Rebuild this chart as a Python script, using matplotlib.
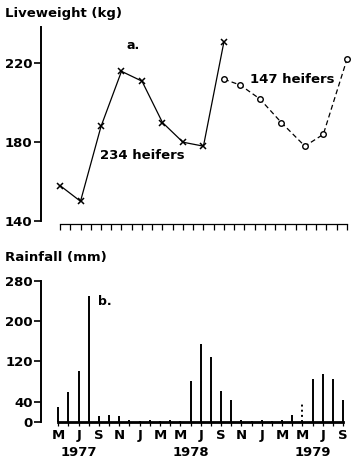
import matplotlib.pyplot as plt
import matplotlib.transforms as mtransforms
import numpy as np

# month index 0 = May 1977 ... 28 = Sep 1979
months = np.arange(29)
month_labels = ["M", "J", "S", "N", "J", "M", "M", "J", "S", "N", "J", "M", "M", "J", "S"]
years = ["1977", "1978", "1979"]
year_pos = [2, 13, 25]

# liveweight (kg)
wt_a_month = [0, 2, 4, 6, 8, 10, 12, 14, 16]
wt_a = [158, 150, 188, 216, 211, 190, 180, 178, 231]
wt_b_month = [16, 17.6, 19.5, 21.6, 23.9, 25.7, 28]
wt_b = [212, 209, 202, 190, 178, 184, 222]

# monthly rainfall (mm)
rain = [30, 59, 101, 250, 12, 13, 11, 3, 2, 3, 2, 3, 2, 80, 154, 129, 61, 43,
        3, 2, 3, 2, 3, 13, 35, 84, 95, 84, 43]

plt.rcParams.update({
    "font.family": "DejaVu Sans",
    "font.weight": "bold",
    "font.size": 9,
})

fig = plt.figure(figsize=(3.61, 4.68), dpi=100)

# --- a. liveweight
ax1 = fig.add_axes([0.1136, 0.5278, 0.8615, 0.4145])
ax1.plot(wt_a_month, wt_a, color="black", lw=0.9, marker="x", ms=4.5, mew=1.1)
ax1.plot(wt_b_month, wt_b, color="black", lw=0.9, ls=(0, (4, 2.5)), marker="o",
         ms=4, mfc="white", mew=1.0)
ax1.set_xlim(-1.855, 28.5)
ax1.set_ylim(140, 238.5)
ax1.set_yticks([140, 180, 220])
ax1.set_xticks(months)
ax1.set_xticklabels([])
for s in ["top", "right"]:
    ax1.spines[s].set_visible(False)
ax1.spines["left"].set_linewidth(1.4)
ax1.spines["bottom"].set_linewidth(0.9)
ax1.spines["bottom"].set_bounds(0, 28)
ax1.spines["bottom"].set_position(("outward", 2))
ax1.tick_params(axis="y", length=5, width=1.2, pad=1, labelsize=9.5)
ax1.tick_params(axis="x", length=4, width=0.9)
ax1.text(7.1, 229, "a.", ha="center", va="center", fontsize=9)
ax1.text(3.9, 173.5, "234 heifers", ha="left", va="center", fontsize=9.5)
ax1.text(18.5, 212, "147 heifers", ha="left", va="center", fontsize=9.5)
fig.text(0.014, 0.972, "Liveweight (kg)", ha="left", va="center", fontsize=9.5)

# --- b. rainfall
ax2 = fig.add_axes([0.1136, 0.0989, 0.8615, 0.3013])
styles = ["dotted" if i == 24 else "solid" for i in months]
ax2.vlines(months, 0, rain, colors="black", linewidth=1.4, linestyles=styles)
ax2.set_xlim(-1.70, 28.88)
ax2.set_ylim(0, 280)
ax2.set_yticks([0, 40, 120, 200, 280])
ax2.set_xticks(months[::2])
ax2.set_xticklabels(month_labels)
ax2.set_xticks(months, minor=True)
for s in ["top", "right"]:
    ax2.spines[s].set_visible(False)
ax2.spines["left"].set_linewidth(1.4)
ax2.spines["bottom"].set_linewidth(2.0)
ax2.spines["bottom"].set_bounds(0, 28)
ax2.tick_params(axis="y", length=5, width=1.2, pad=1, labelsize=9.5)
ax2.tick_params(axis="x", which="both", length=3, width=0.9, pad=2, labelsize=9.5)
ax2.text(4.6, 238, "b.", ha="center", va="center", fontsize=9)
trans = mtransforms.blended_transform_factory(ax2.transData, ax2.transAxes)
for yr, xp in zip(years, year_pos):
    ax2.text(xp, -0.215, yr, transform=trans, ha="center", va="center", fontsize=9.5)
fig.text(0.014, 0.449, "Rainfall (mm)", ha="left", va="center", fontsize=9.5)

fig.savefig("out.png", dpi=100)
